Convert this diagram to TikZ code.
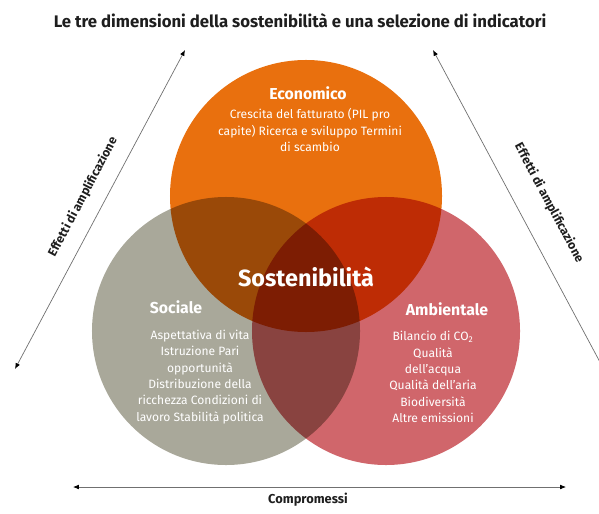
\documentclass[tikz,border=0pt]{standalone}
\usepackage{fontspec}
\setmainfont{Fira Sans}
\usetikzlibrary{positioning,arrows.meta}
\definecolor{ecoc}{HTML}{E9700E}
\definecolor{socc}{HTML}{A9A89A}
\definecolor{ambc}{HTML}{D0666B}
\definecolor{axisc}{HTML}{707070}
\definecolor{titlec}{HTML}{1E1E1E}
\tikzset{
  venn/.style={circle,inner sep=0pt,minimum size=#1},
  dimtitle/.style={text=white,font=\bfseries\fontsize{13.5}{15}\selectfont},
  dimtext/.style={text=white,align=center,font=\fontsize{10.3}{13.9}\selectfont},
  axislabel/.style={text=titlec,font=\bfseries\fontsize{10.5}{12}\selectfont},
  axis/.style={axisc,line width=0.6pt},
  axtip/.tip={Latex[length=5pt,width=4pt,black]},
}

\begin{document}
\begin{tikzpicture}[x=0.03cm,y=-0.03cm]
  \useasboundingbox (0,0) rectangle (599,513);

  \node[text=titlec,font=\bfseries\fontsize{14.3}{16}\selectfont] (title) at (300,21)
    {Le tre dimensioni della sostenibilità e una selezione di indicatori};

  % the three circles
  \begin{scope}[blend group=multiply]
    \node[venn=8.16cm,fill=ecoc] (eco) at (306,196) {};
    \node[venn=8.04cm,fill=socc] (soc) at (226,331) {};
    \node[venn=8.04cm,fill=ambc] (amb) at (386,331) {};
  \end{scope}

  \node[dimtitle] (ecot) at (308,93) {Economico};
  \node[dimtext] (ecox) at (310,130) {Crescita del fatturato (PIL pro\\capite) Ricerca e sviluppo Termini\\di scambio};

  \node[dimtitle] (soct) at (176,307) {Sociale};
  \node[dimtext] (socx) at (200,377) {Aspettativa di vita\\Istruzione Pari\\opportunità\\Distribuzione della\\ricchezza Condizioni di\\lavoro Stabilità politica};

  \node[dimtitle] (ambt) at (447,309) {Ambientale};
  \node[dimtext] (ambx) at (433,377) {Bilancio di CO\textsubscript{2}\\Qualità\\dell'acqua\\Qualità dell'aria\\Biodiversità\\Altre emissioni};

  \node[text=white,font=\bfseries\fontsize{20}{24}\selectfont] (sost) at (306,277) {Sostenibilità};

  % arrows
  \coordinate (lbot) at (15,369);
  \coordinate (ltop) at (185,50);
  \coordinate (rtop) at (433,50);
  \coordinate (rbot) at (601,364);
  \coordinate (bleft) at (73,487);
  \coordinate (bright) at (566,487);
  \draw[axis,axtip-axtip] (lbot) -- (ltop);
  \draw[axis,axtip-] (rtop) -- (rbot);
  \draw[axis,axtip-axtip] (bleft) -- (bright);

  \node[axislabel,rotate=62] (llab) at (83,197) {Effetti di amplificazione};
  \node[axislabel,rotate=-62] (rlab) at (549,203) {Effetti di amplificazione};
  \node[axislabel,font=\bfseries\fontsize{11}{12}\selectfont] (blab) at (308,500) {Compromessi};
\end{tikzpicture}
\end{document}
